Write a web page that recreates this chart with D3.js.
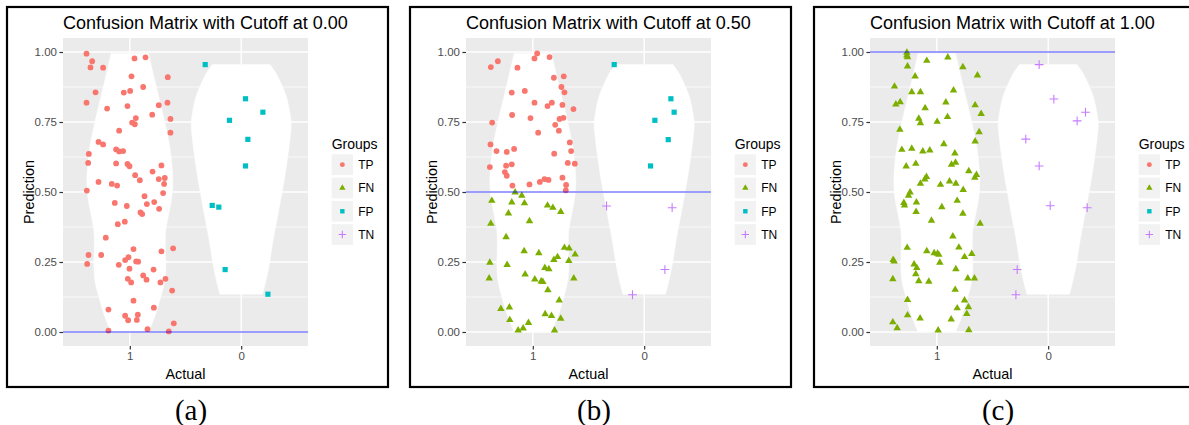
<!DOCTYPE html>
<html><head><meta charset="utf-8">
<script src="https://cdn.jsdelivr.net/npm/d3@7"></script>
<style>
body{margin:0;background:#fff}
text{font-family:"Liberation Sans",Arial,Helvetica,sans-serif}
</style>
</head><body>
<svg id="chart" width="1189" height="425"></svg>
<script>
// ---------- data ----------
const categories = ["1", "0"];            // x-axis levels (Actual), left to right
const groups = ["TP", "FN", "FP", "TN"];
const groupColors = ["#F8766D", "#7CAE00", "#00BFC4", "#C77CFF"];
const cutoffs = [0.00, 0.50, 1.00];
const panelLabels = ["(a)", "(b)", "(c)"];
const yTicks = [0, 0.25, 0.5, 0.75, 1];
const yMinorTicks = [0.125, 0.375, 0.625, 0.875];

// violin density profiles: [prediction, half-width in x units]
const violinActual1 = [[0.003,0.171],[0.030,0.200],[0.065,0.233],[0.125,0.278],[0.185,0.314],[0.244,0.323],[0.304,0.319],[0.363,0.323],[0.423,0.350],[0.482,0.377],[0.542,0.386],[0.601,0.377],[0.661,0.359],[0.720,0.330],[0.780,0.296],[0.839,0.260],[0.899,0.224],[0.958,0.189],[0.995,0.168]];
const violinActual0 = [[0.135,0.191],[0.185,0.223],[0.244,0.254],[0.304,0.277],[0.363,0.303],[0.423,0.332],[0.482,0.359],[0.542,0.386],[0.601,0.409],[0.685,0.437],[0.744,0.449],[0.780,0.438],[0.839,0.407],[0.887,0.359],[0.923,0.314],[0.955,0.259]];

// jittered points: [jitter (x units), prediction]
const pointsA1 = [[-0.389,0.994],[-0.338,0.967],[-0.353,0.945],[-0.240,0.944],[0.042,0.977],[0.141,0.981],[0.341,0.910],[0.015,0.913],[-0.308,0.856],[-0.389,0.819],
[-0.054,0.855],[0.003,0.861],[0.120,0.875],[-0.021,0.807],[-0.204,0.798],[0.260,0.810],[0.338,0.819],[0.201,0.776],[0.054,0.764],[0.021,0.748],
[0.045,0.742],[0.365,0.761],[-0.096,0.719],[0.365,0.712],[-0.281,0.679],[-0.240,0.670],[-0.123,0.652],[-0.096,0.645],[-0.060,0.646],[-0.368,0.636],
[-0.374,0.604],[-0.123,0.602],[-0.021,0.600],[-0.003,0.592],[0.204,0.573],[0.284,0.595],[0.048,0.560],[0.314,0.550],[0.090,0.542],[0.260,0.546],
[-0.281,0.536],[-0.162,0.529],[-0.114,0.523],[0.308,0.529],[-0.386,0.505],[0.299,0.496],[0.132,0.485],[0.219,0.464],[0.153,0.457],[-0.135,0.461],
[-0.027,0.450],[0.263,0.440],[0.096,0.427],[0.111,0.421],[-0.108,0.385],[-0.045,0.394],[-0.216,0.337],[-0.371,0.275],[-0.383,0.243],[-0.257,0.275],
[0.033,0.296],[0.389,0.299],[0.284,0.288],[-0.099,0.240],[-0.042,0.257],[-0.012,0.267],[0.057,0.252],[0.075,0.251],[-0.003,0.226],[0.213,0.223],
[-0.018,0.190],[0.012,0.177],[0.120,0.202],[0.150,0.187],[0.275,0.177],[0.320,0.190],[0.380,0.148],[0.033,0.112],[-0.192,0.080],[0.216,0.087],
[-0.042,0.058],[0.072,0.062],[-0.015,0.042],[0.063,0.043],[-0.192,0.005],[0.159,0.010],[0.350,0.002],[0.395,0.031]];
const pointsA0 = [[-0.323,0.955],[0.039,0.833],[0.195,0.785],[-0.105,0.756],[0.060,0.688],[0.039,0.593],[-0.260,0.452],[-0.201,0.446],[-0.144,0.223],[0.240,0.135]];

const pointsB1 = [[-0.377,0.946],[-0.314,0.967],[-0.138,0.944],[0.015,0.977],[0.039,0.995],[0.150,0.982],[0.189,0.908],[0.278,0.913],[0.257,0.875],[0.284,0.856],
[-0.189,0.855],[-0.072,0.861],[0.015,0.819],[0.171,0.819],[0.132,0.807],[0.266,0.811],[0.365,0.796],[-0.186,0.775],[-0.021,0.764],[0.240,0.761],
[0.275,0.765],[0.201,0.740],[0.234,0.719],[-0.365,0.748],[0.048,0.712],[-0.380,0.670],[-0.326,0.646],[-0.234,0.643],[-0.168,0.654],[0.192,0.637],
[0.332,0.677],[0.344,0.646],[-0.386,0.589],[-0.240,0.594],[-0.189,0.599],[0.314,0.604],[0.377,0.601],[-0.251,0.571],[-0.234,0.558],[-0.183,0.523],
[-0.030,0.527],[0.063,0.536],[0.105,0.546],[0.141,0.543],[0.266,0.551],[0.299,0.525],[0.296,0.506],
[-0.159,0.499],[-0.099,0.487],[-0.368,0.469],[-0.189,0.463],[-0.075,0.460],[0.132,0.452],[0.180,0.444],[0.251,0.429],[-0.219,0.424],[-0.377,0.387],
[-0.030,0.396],[-0.240,0.339],[-0.078,0.289],[0.054,0.282],[0.284,0.301],[0.326,0.299],[0.380,0.277],[-0.386,0.248],[-0.231,0.240],[0.189,0.258],
[0.222,0.268],[0.323,0.254],[0.108,0.229],[0.144,0.225],[-0.069,0.206],[0.018,0.188],[0.075,0.181],[0.090,0.179],[-0.392,0.192],[0.368,0.192],
[0.135,0.150],[0.237,0.113],[-0.287,0.083],[-0.210,0.088],[-0.207,0.043],[0.111,0.064],[0.168,0.058],[0.251,0.048],[-0.039,0.033],[-0.132,0.006],
[-0.087,0.013],[0.195,0.006]];
const pointsB0 = [[-0.269,0.955],[0.240,0.833],[0.269,0.785],[0.096,0.756],[0.216,0.687],[0.057,0.593],[-0.338,0.450],[0.251,0.444],[0.186,0.223],[-0.105,0.133]];

const pointsC1 = [[-0.269,0.998],[-0.269,0.988],[-0.263,0.982],[-0.090,0.969],[0.099,0.981],[0.234,0.946],[-0.263,0.949],[0.365,0.917],[-0.195,0.913],[-0.380,0.877],
[-0.225,0.857],[-0.147,0.857],[0.150,0.863],[-0.368,0.813],[-0.329,0.821],[0.081,0.820],[0.344,0.810],[-0.105,0.800],[0.398,0.779],[-0.162,0.762],
[0.003,0.751],[0.096,0.768],[-0.147,0.746],[-0.332,0.723],[0.380,0.714],[0.344,0.681],[0.063,0.671],[-0.314,0.651],[-0.225,0.655],[-0.126,0.645],
[-0.063,0.649],[0.162,0.638],[-0.275,0.592],[-0.189,0.601],[0.132,0.598],[0.168,0.605],[0.287,0.575],[0.356,0.561],[0.341,0.551],[-0.093,0.554],
[-0.108,0.545],[-0.147,0.530],[0.033,0.526],[0.114,0.538],[0.171,0.530],[0.237,0.508],[-0.240,0.499],[-0.254,0.487],[-0.296,0.461],[-0.290,0.452],
[-0.183,0.463],[0.183,0.469],[0.045,0.446],[-0.186,0.429],[0.234,0.423],[-0.048,0.398],[0.389,0.387],[0.144,0.342],[-0.266,0.301],[0.198,0.302],
[-0.090,0.289],[-0.024,0.282],[0.006,0.280],[0.018,0.276],[0.249,0.268],[0.314,0.279],[-0.392,0.258],[-0.383,0.252],[0.027,0.248],[-0.204,0.242],
[-0.180,0.229],[-0.395,0.189],[-0.189,0.207],[-0.162,0.182],[-0.072,0.180],[0.171,0.225],[0.278,0.192],[0.338,0.192],[0.165,0.151],[-0.263,0.115],
[0.249,0.113],[0.284,0.089],[0.183,0.085],[0.269,0.065],[-0.263,0.060],[-0.150,0.049],[0.129,0.045],[-0.395,0.035],[-0.356,0.014],[0.012,0.006],
[0.287,0.007]];
const pointsC0 = [[-0.081,0.955],[0.051,0.832],[0.335,0.785],[0.260,0.754],[-0.201,0.689],[-0.081,0.593],[0.018,0.451],[0.350,0.444],[-0.278,0.223],[-0.290,0.133]];

// ---------- drawing ----------
const panels = [
  {cut: cutoffs[0], p1: pointsA1, p0: pointsA0, label: panelLabels[0]},
  {cut: cutoffs[1], p1: pointsB1, p0: pointsB0, label: panelLabels[1]},
  {cut: cutoffs[2], p1: pointsC1, p0: pointsC0, label: panelLabels[2]}
];
const frameLefts = [7, 410, 814];
const svg = d3.select("#chart");

function groupOf(actual, pred, cut) {
  const pos = pred >= cut;
  if (actual === "1") return pos ? "TP" : "FN";
  return pos ? "FP" : "TN";
}
const colorScale = d3.scaleOrdinal().domain(groups).range(groupColors);

function drawShape(sel, grp, scale) {
  const s = scale || 1;
  const col = colorScale(grp);
  if (grp === "TP") {
    sel.append("circle").attr("r", 2.9 * s).attr("fill", col);
  } else if (grp === "FN") {
    sel.append("path").attr("d", d3.symbol().type(d3.symbolTriangle).size(24 * s * s)()).attr("fill", col);
  } else if (grp === "FP") {
    sel.append("path").attr("d", d3.symbol().type(d3.symbolSquare).size(27 * s * s)()).attr("fill", col);
  } else {
    const a = 4.4 * s;
    sel.append("path").attr("d", `M${-a},0H${a}M0,${-a}V${a}`).attr("stroke", col).attr("stroke-width", 1.1).attr("fill", "none");
  }
}

panels.forEach((P, i) => {
  const L = frameLefts[i];
  const g = svg.append("g").attr("transform", `translate(${L},0)`);
  const pl = 56, pr = 301, pt = 38, pb = 346;
  const x = d3.scalePoint().domain(categories).range([pl, pr]).padding(0.6);
  const y = d3.scaleLinear().domain([-0.05, 1.05]).range([pb, pt]);
  const step = x.step();

  g.append("rect").attr("x", pl).attr("y", pt).attr("width", pr - pl).attr("height", pb - pt).attr("fill", "#EBEBEB");
  g.selectAll(".minor").data(yMinorTicks).enter().append("line")
    .attr("x1", pl).attr("x2", pr).attr("y1", d => y(d)).attr("y2", d => y(d))
    .attr("stroke", "#fff").attr("stroke-width", 0.7);
  g.selectAll(".major").data(yTicks).enter().append("line")
    .attr("x1", pl).attr("x2", pr).attr("y1", d => y(d)).attr("y2", d => y(d))
    .attr("stroke", "#fff").attr("stroke-width", 1.4);
  g.selectAll(".vmajor").data(categories).enter().append("line")
    .attr("x1", d => x(d)).attr("x2", d => x(d)).attr("y1", pt).attr("y2", pb)
    .attr("stroke", "#fff").attr("stroke-width", 1.4);

  // violins
  [["1", violinActual1], ["0", violinActual0]].forEach(([cat, prof]) => {
    const cx = x(cat);
    const area = d3.area()
      .y(d => y(d[0]))
      .x0(d => cx - d[1] * step)
      .x1(d => cx + d[1] * step)
      .curve(d3.curveCatmullRom);
    g.append("path").attr("d", area(prof)).attr("fill", "#fff").attr("stroke", "#fff").attr("stroke-width", 0.5);
  });

  // points
  [["1", P.p1], ["0", P.p0]].forEach(([cat, pts]) => {
    pts.forEach(d => {
      const grp = groupOf(cat, d[1], P.cut);
      const pg = g.append("g").attr("transform", `translate(${x(cat) + d[0] * step},${y(d[1])})`);
      drawShape(pg, grp, 1);
    });
  });

  // cutoff line
  g.append("line").attr("x1", pl).attr("x2", pr).attr("y1", y(P.cut)).attr("y2", y(P.cut))
    .attr("stroke", "#0000FF").attr("stroke-opacity", 0.5).attr("stroke-width", 1.4);

  // axes
  const ya = g.append("g").attr("transform", `translate(${pl},0)`)
    .call(d3.axisLeft(y).tickValues(yTicks).tickFormat(d3.format(".2f")).tickSize(3.6).tickPadding(2.4));
  const xa = g.append("g").attr("transform", `translate(0,${pb})`)
    .call(d3.axisBottom(x).tickSize(3.6).tickPadding(2.4));
  [ya, xa].forEach(a => {
    a.select(".domain").remove();
    a.selectAll(".tick line").attr("stroke", "#333").attr("stroke-width", 1.2);
    a.selectAll(".tick text").attr("fill", "#4D4D4D").attr("font-size", "11.5px")
      .attr("font-family", "'Liberation Sans',Arial,sans-serif");
  });

  // titles
  g.append("text").attr("x", pl).attr("y", 29).attr("font-size", "18px").attr("fill", "#000")
    .text(`Confusion Matrix with Cutoff at ${d3.format(".2f")(P.cut)}`);
  g.append("text").attr("x", (pl + pr) / 2).attr("y", 379).attr("text-anchor", "middle")
    .attr("font-size", "14.4px").text("Actual");
  g.append("text").attr("transform", "rotate(-90)").attr("x", -(pt + pb) / 2).attr("y", 27)
    .attr("text-anchor", "middle").attr("font-size", "14.4px").text("Prediction");

  // legend
  const lx = 324.7;
  g.append("text").attr("x", lx).attr("y", 149).attr("font-size", "14px").text("Groups");
  groups.forEach((grp, k) => {
    const ky = 154.3 + k * 23.3;
    g.append("rect").attr("x", lx).attr("y", ky).attr("width", 21.3).attr("height", 20.7).attr("fill", "#F2F2F2");
    const kg = g.append("g").attr("transform", `translate(${lx + 10.65},${ky + 10.35})`);
    drawShape(kg, grp, 0.85);
    g.append("text").attr("x", lx + 26.5).attr("y", ky + 10.35).attr("dy", "0.36em")
      .attr("font-size", "12px").text(grp);
  });

  // frame and caption
  g.append("rect").attr("x", 0).attr("y", 7).attr("width", 381).attr("height", 380)
    .attr("fill", "none").attr("stroke", "#000").attr("stroke-width", 2.2);
  g.append("text").attr("x", 184).attr("y", 420).attr("text-anchor", "middle")
    .attr("font-family", "'Liberation Serif','Times New Roman',serif").attr("font-size", "29px")
    .style("font-family", "'Liberation Serif','Times New Roman',serif")
    .text(P.label);
});
</script>
</body></html>
